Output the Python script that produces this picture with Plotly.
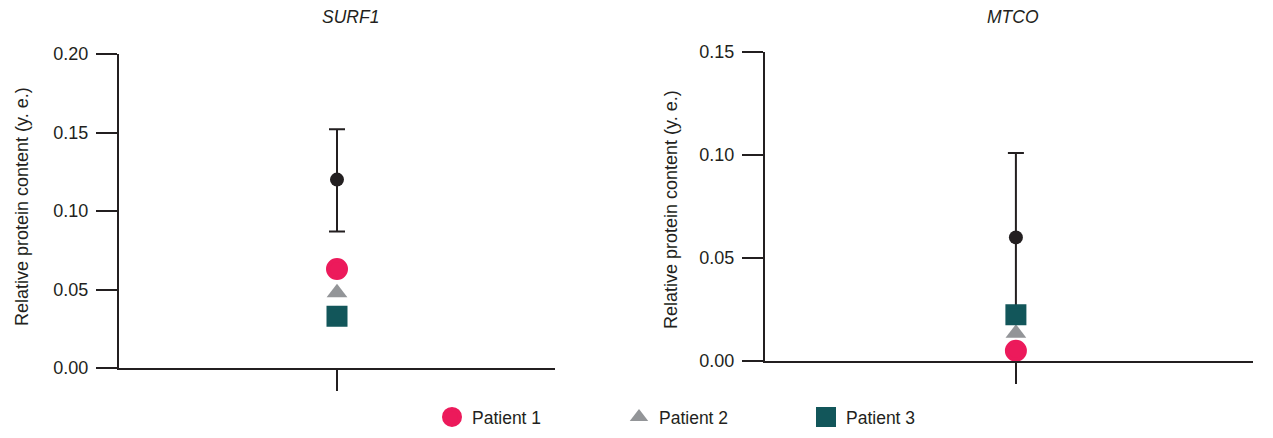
import plotly.graph_objects as go

# page body has an 8px margin; figure sized to fit inside the window
OFF = 8
WIN_W, WIN_H = 1273, 438
W, H = WIN_W - 2 * OFF, WIN_H - OFF - 4

genes = ["SURF1", "MTCO"]
control_mean = [0.120, 0.060]
control_err_plus = [0.032, 0.041]
control_err_minus = [0.033, 0.041]
patient_names = ["Patient 1", "Patient 2", "Patient 3"]
patient_values = {
    "Patient 1": [0.063, 0.005],
    "Patient 2": [0.048, 0.0135],
    "Patient 3": [0.033, 0.0225],
}
y_ranges = [[0, 0.20], [0, 0.15]]
x_ranges = [[0, 2.0], [0, 1.945]]

DARK = "#231F20"
styles = {
    "Patient 1": dict(symbol="circle", color="#EC1A5B", size=18, lw=4),
    "Patient 2": dict(symbol="triangle-up", color="#939598", size=18, lw=0),
    "Patient 3": dict(symbol="square", color="#12565A", size=17, lw=4),
}

fig = go.Figure()
axes = [("x", "y"), ("x2", "y2")]
for i, (xa, ya) in enumerate(axes):
    fig.add_trace(go.Scatter(
        x=[1], y=[control_mean[i]], mode="markers", xaxis=xa, yaxis=ya,
        marker=dict(color=DARK, size=14),
        error_y=dict(type="data", symmetric=False, array=[control_err_plus[i]],
                     arrayminus=[control_err_minus[i]], color=DARK, thickness=2, width=8),
        showlegend=False, name="Control"))
    for p in patient_names:
        s = styles[p]
        fig.add_trace(go.Scatter(
            x=[1], y=[patient_values[p][i]], mode="markers", xaxis=xa, yaxis=ya,
            name=p, legendgroup=p, showlegend=(i == 0),
            marker=dict(symbol=s["symbol"], color=s["color"], size=s["size"],
                        line=dict(width=s["lw"], color=s["color"]))))

FONT = "Liberation Sans, Arial, Helvetica, sans-serif"
axis_common = dict(showline=True, linecolor=DARK, linewidth=2, ticks="outside",
                   tickcolor=DARK, tickwidth=2, ticklen=21, showgrid=False,
                   zeroline=False, automargin=False)

# window-pixel helpers -> paper fractions
def px(x):
    return (x - OFF) / W

def py(y):
    return (H - (y - OFF)) / H

def xd(a, b):
    return [px(a), px(b)]

def yd(top, bottom):
    return [py(bottom), py(top)]

fig.update_layout(
    width=W, height=H, margin=dict(l=0, r=0, t=0, b=0, autoexpand=False),
    paper_bgcolor="white", plot_bgcolor="white",
    font=dict(family=FONT, size=18, color=DARK),
    xaxis=dict(domain=xd(119, 555), range=x_ranges[0], tickvals=[1],
               showticklabels=False, anchor="y", **axis_common),
    yaxis=dict(domain=yd(54, 368), range=y_ranges[0], dtick=0.05, tickformat=".2f",
               anchor="x", ticklabelstandoff=4, tickfont=dict(size=18), **axis_common),
    xaxis2=dict(domain=xd(765, 1253), range=x_ranges[1], tickvals=[1],
                showticklabels=False, anchor="y2", **axis_common),
    yaxis2=dict(domain=yd(52, 361), range=y_ranges[1], dtick=0.05, tickformat=".2f",
                anchor="x2", ticklabelstandoff=4, tickfont=dict(size=18), **axis_common),
    legend=dict(orientation="h", x=px(432), xanchor="left", y=py(417),
                yanchor="middle", entrywidth=142, font=dict(size=17.5),
                bgcolor="rgba(0,0,0,0)"),
)

anns = [
    dict(text="<i>SURF1</i>", x=px(350), y=py(17), size=17.5),
    dict(text="<i>MTCO</i>", x=px(1013), y=py(17), size=17.5),
    dict(text="Relative protein content (y. e.)", x=px(22), y=py(207), textangle=-90, size=18),
    dict(text="Relative protein content (y. e.)", x=px(671), y=py(210), textangle=-90, size=18),
]
for a in anns:
    size = a.pop("size")
    fig.add_annotation(xref="paper", yref="paper", showarrow=False,
                       xanchor="center", yanchor="middle",
                       font=dict(size=size, color=DARK, family=FONT), **a)

fig.write_html("out.html")
